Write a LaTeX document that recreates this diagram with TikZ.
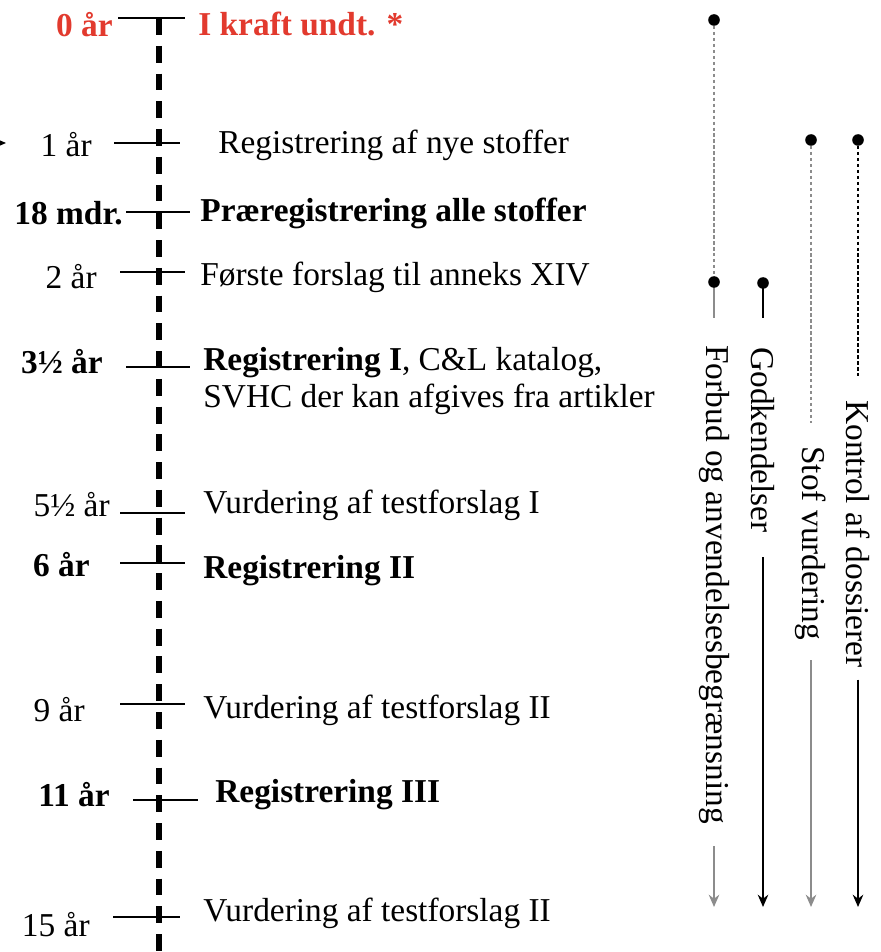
\documentclass[tikz,border=0pt]{standalone}
\usepackage{fontspec}
\setmainfont{Liberation Serif}
\usetikzlibrary{calc,arrows.meta}
\tikzset{>={Stealth[length=7pt,width=6pt]}}
\definecolor{ikraft}{RGB}{226,58,46}
\definecolor{faint}{gray}{0.55}

\begin{document}
\begin{tikzpicture}[x=0.02cm, y=-0.02cm,
    every node/.style={font=\fontsize{19}{21.5}\selectfont, inner sep=0pt},
    yr/.style={anchor=east},
    ev/.style={anchor=west, align=left},
    tick/.style={line width=1pt},
    axis/.style={line width=3.8pt, dash pattern=on 9.6pt off 6.2pt},
    phase/.style={rotate=-90, anchor=west},
    fine/.style={line width=0.8pt, dash pattern=on 2pt off 1.4pt}]
  \useasboundingbox (0,0) rectangle (881,952);

  % tidsakse
  \coordinate (top) at (159,18);
  \coordinate (bot) at (159,962);
  \draw[axis] (top) -- (bot);
  \coordinate (ud) at (-15,143);
  \coordinate (ind) at (6,143);
  \draw[->, line width=1pt] (ud) -- (ind);

  % 0 aar
  \coordinate (t0l) at (118,18);
  \coordinate (t0r) at (185,18);
  \draw[tick] (t0l) -- (t0r);
  \node[yr, text=ikraft] (y0) at (113,25) {\textbf{0 år}};
  \node[ev, text=ikraft] (e0) at (198,24) {\textbf{I kraft undt. *}};

  % 1 aar
  \coordinate (t1l) at (114,143);
  \coordinate (t1r) at (180,143);
  \draw[tick] (t1l) -- (t1r);
  \node[yr] (y1) at (92,145) {1 år};
  \node[ev] (e1) at (218,145) {Registrering af nye stoffer};

  % 18 mdr.
  \coordinate (t18l) at (126,212);
  \coordinate (t18r) at (190,212);
  \draw[tick] (t18l) -- (t18r);
  \node[yr] (y18) at (123,213) {\textbf{18 mdr.}};
  \node[ev] (e18) at (200,213) {\textbf{Præregistrering alle stoffer}};

  % 2 aar
  \coordinate (t2l) at (120,272);
  \coordinate (t2r) at (185,272);
  \draw[tick] (t2l) -- (t2r);
  \node[yr] (y2) at (97,277) {2 år};
  \node[ev] (e2) at (200,277) {Første forslag til anneks XIV};

  % 3 1/2 aar
  \coordinate (t35l) at (126,367);
  \coordinate (t35r) at (190,367);
  \draw[tick] (t35l) -- (t35r);
  \node[yr] (y35) at (103,362) {\textbf{3½ år}};
  \node[ev] (e35) at (203,381)
    {\textbf{Registrering I}, C\&L katalog,\\SVHC der kan afgives fra artikler};

  % 5 1/2 aar
  \coordinate (t55l) at (120,513);
  \coordinate (t55r) at (185,513);
  \draw[tick] (t55l) -- (t55r);
  \node[yr] (y55) at (110,505) {5½ år};
  \node[ev] (e55) at (203,505) {Vurdering af testforslag I};

  % 6 aar
  \coordinate (t6l) at (120,563);
  \coordinate (t6r) at (185,563);
  \draw[tick] (t6l) -- (t6r);
  \node[yr] (y6) at (90,565) {\textbf{6 år}};
  \node[ev] (e6) at (203,571) {\textbf{Registrering II}};

  % 9 aar
  \coordinate (t9l) at (120,704);
  \coordinate (t9r) at (185,704);
  \draw[tick] (t9l) -- (t9r);
  \node[yr] (y9) at (85,710) {9 år};
  \node[ev] (e9) at (203,710) {Vurdering af testforslag II};

  % 11 aar
  \coordinate (t11l) at (133,800);
  \coordinate (t11r) at (198,800);
  \draw[tick] (t11l) -- (t11r);
  \node[yr] (y11) at (110,795) {\textbf{11 år}};
  \node[ev] (e11) at (215,795) {\textbf{Registrering III}};

  % 15 aar
  \coordinate (t15l) at (113,917);
  \coordinate (t15r) at (180,917);
  \draw[tick] (t15l) -- (t15r);
  \node[yr] (y15) at (90,925) {15 år};
  \node[ev] (e15) at (203,913) {Vurdering af testforslag II};

  % Forbud og anvendelsesbegraensning
  \coordinate (fa) at (714,20);
  \coordinate (fb) at (714,282);
  \coordinate (fc) at (714,318);
  \coordinate (fe) at (714,907);
  \node[phase] (forbud) at (714,345) {Forbud og anvendelsesbegrænsning};
  \draw[faint, fine] (fa) -- (fb);
  \draw[faint, line width=1pt] (fb) -- (fc);
  \draw[faint, ->, line width=1pt] ($(forbud.east)+(0,22)$) -- (fe);
  \fill (fa) circle (3.3pt);
  \fill (fb) circle (3.3pt);

  % Godkendelser
  \coordinate (ga) at (763,283);
  \coordinate (gc) at (763,318);
  \coordinate (ge) at (763,907);
  \node[phase] (godk) at (763,347) {Godkendelser};
  \draw[line width=1pt] (ga) -- (gc);
  \draw[->, line width=1pt] ($(godk.east)+(0,24)$) -- (ge);
  \fill (ga) circle (3.3pt);

  % Stof vurdering
  \coordinate (sa) at (811,140);
  \coordinate (sb) at (811,423);
  \coordinate (se) at (811,907);
  \node[phase] (stof) at (811,446) {Stof vurdering};
  \draw[faint, fine] (sa) -- (sb);
  \draw[faint, ->, line width=1pt] ($(stof.east)+(0,20)$) -- (se);
  \fill (sa) circle (3.3pt);

  % Kontrol af dossierer
  \coordinate (ka) at (858,140);
  \coordinate (kb) at (858,377);
  \coordinate (ke) at (858,907);
  \node[phase] (kontrol) at (858,400) {Kontrol af dossierer};
  \draw[fine] (ka) -- (kb);
  \draw[->, line width=1pt] ($(kontrol.east)+(0,12)$) -- (ke);
  \fill (ka) circle (3.3pt);
\end{tikzpicture}
\end{document}
